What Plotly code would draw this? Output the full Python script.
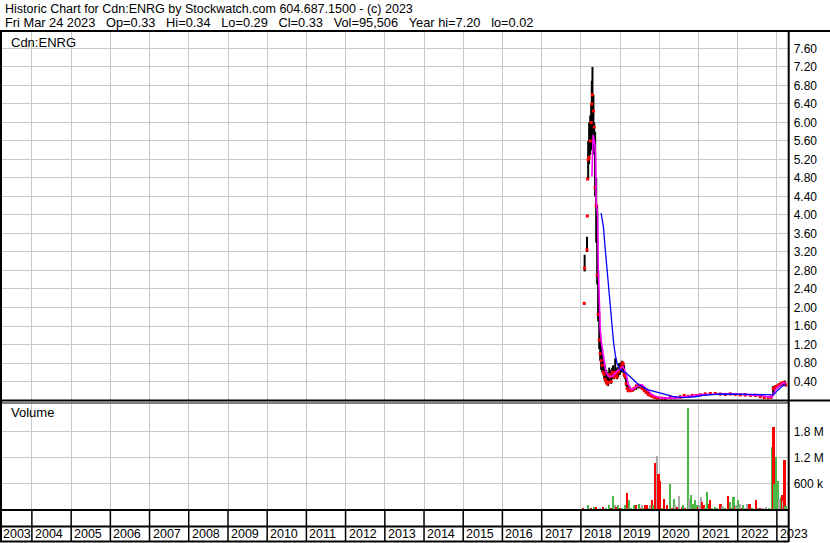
import plotly.graph_objects as go

W, H = 830, 543
FONT = 'Liberation Sans, Arial, sans-serif'
GRID = '#c8c8c8'
UP, DOWN, FLAT = '#4cb848', '#ff0000', '#a8a8a8'

# daily bars (sampled), Cdn:ENRG
PRICE_DATES = [
    '2018-02-01', '2018-02-05', '2018-02-27', '2018-03-02', '2018-03-06', '2018-03-10',
    '2018-03-19', '2018-03-29', '2018-04-07', '2018-04-13', '2018-04-19', '2018-04-28',
    '2018-05-05', '2018-05-14', '2018-05-24', '2018-06-02', '2018-06-11', '2018-06-21',
    '2018-06-30', '2018-07-09', '2018-07-19', '2018-07-28', '2018-08-06', '2018-08-15',
    '2018-08-25', '2018-09-03', '2018-09-12', '2018-09-22', '2018-10-01', '2018-10-10',
    '2018-10-20', '2018-10-29', '2018-11-07', '2018-11-17', '2018-11-26', '2018-12-05',
    '2018-12-15', '2018-12-24', '2019-01-01', '2019-01-11', '2019-01-21', '2019-01-30',
    '2019-02-08', '2019-02-18', '2019-02-27', '2019-03-08', '2019-03-17', '2019-04-05',
    '2019-04-24', '2019-05-12', '2019-05-31', '2019-06-19', '2019-07-07', '2019-07-26',
    '2019-08-14', '2019-09-01', '2019-09-20', '2019-10-09', '2019-10-27', '2019-11-15',
    '2019-12-03', '2019-12-22', '2020-01-25', '2020-02-25', '2020-04-12', '2020-05-28',
    '2020-07-14', '2020-08-20', '2020-09-26', '2020-11-03', '2020-12-10', '2021-01-17',
    '2021-03-04', '2021-04-20', '2021-06-06', '2021-07-22', '2021-09-07', '2021-10-23',
    '2021-12-09', '2022-01-24', '2022-03-12', '2022-04-28', '2022-06-13', '2022-07-30',
    '2022-09-05', '2022-10-12', '2022-11-09', '2022-11-28', '2022-12-17', '2023-01-04',
    '2023-01-22', '2023-02-10', '2023-03-01', '2023-03-15', '2023-03-24',
]
PRICE_HIGH = [
    2.12, 3.14, 3.53, 4.00, 4.82, 5.60, 6.00, 6.15, 6.40, 6.90, 7.20, 6.60,
    6.00, 5.80, 4.80, 4.20, 2.80, 1.90, 1.45, 1.25, 1.10, 0.95, 0.85, 0.75,
    0.65, 0.60, 0.55, 0.70, 0.65, 0.60, 0.70, 0.75, 0.65, 0.90, 0.70, 0.65,
    0.72, 0.80, 0.75, 0.82, 0.85, 0.82, 0.75, 0.60, 0.50, 0.35, 0.30, 0.25,
    0.24, 0.28, 0.33, 0.35, 0.34, 0.32, 0.28, 0.22, 0.18, 0.14, 0.12, 0.10,
    0.08, 0.07, 0.06, 0.05, 0.08, 0.08, 0.10, 0.12, 0.10, 0.12, 0.13, 0.14,
    0.16, 0.17, 0.16, 0.15, 0.15, 0.16, 0.15, 0.14, 0.14, 0.13, 0.12, 0.10,
    0.08, 0.08, 0.09, 0.30, 0.32, 0.33, 0.36, 0.38, 0.40, 0.42, 0.34,
]
PRICE_LOW = [
    2.06, 2.78, 3.20, 3.96, 4.76, 4.80, 5.10, 5.30, 5.40, 5.60, 5.50, 5.60,
    5.30, 4.40, 3.40, 2.50, 1.70, 1.10, 0.85, 0.65, 0.60, 0.55, 0.45, 0.40,
    0.35, 0.33, 0.30, 0.40, 0.45, 0.35, 0.45, 0.50, 0.45, 0.50, 0.50, 0.45,
    0.50, 0.55, 0.55, 0.60, 0.60, 0.60, 0.50, 0.45, 0.30, 0.22, 0.18, 0.18,
    0.18, 0.20, 0.22, 0.25, 0.25, 0.22, 0.18, 0.14, 0.10, 0.08, 0.06, 0.05,
    0.04, 0.03, 0.02, 0.02, 0.02, 0.03, 0.04, 0.05, 0.05, 0.07, 0.08, 0.09,
    0.10, 0.12, 0.12, 0.10, 0.10, 0.11, 0.10, 0.09, 0.08, 0.08, 0.07, 0.05,
    0.04, 0.04, 0.04, 0.10, 0.22, 0.25, 0.28, 0.30, 0.32, 0.33, 0.29,
]
PRICE_CLOSE = [
    2.09, 2.85, 3.25, 3.98, 4.78, 5.20, 5.25, 5.60, 6.00, 6.40, 6.60, 6.25,
    5.90, 4.60, 4.20, 2.70, 1.85, 1.30, 1.00, 0.85, 0.75, 0.60, 0.55, 0.45,
    0.40, 0.35, 0.38, 0.55, 0.50, 0.40, 0.60, 0.55, 0.50, 0.60, 0.55, 0.50,
    0.60, 0.65, 0.70, 0.72, 0.80, 0.78, 0.55, 0.50, 0.35, 0.25, 0.20, 0.20,
    0.21, 0.25, 0.30, 0.32, 0.30, 0.25, 0.20, 0.16, 0.12, 0.10, 0.08, 0.06,
    0.05, 0.04, 0.04, 0.03, 0.05, 0.05, 0.06, 0.10, 0.08, 0.10, 0.10, 0.11,
    0.13, 0.14, 0.14, 0.13, 0.12, 0.13, 0.12, 0.11, 0.11, 0.10, 0.10, 0.07,
    0.05, 0.05, 0.06, 0.25, 0.28, 0.30, 0.33, 0.36, 0.38, 0.36, 0.33,
]

# short moving average (magenta)
MA_SHORT_DATES = [
    '2018-04-14', '2018-04-25', '2018-05-10', '2018-05-18', '2018-05-24', '2018-06-06',
    '2018-06-12', '2018-06-21', '2018-07-01', '2018-07-14', '2018-07-29', '2018-08-20',
    '2018-09-15', '2018-10-22', '2018-12-03', '2019-01-01', '2019-01-30', '2019-02-27',
    '2019-03-20', '2019-04-21', '2019-05-22', '2019-06-21', '2019-07-23', '2019-08-23',
    '2019-09-23', '2019-10-27', '2019-11-24', '2020-01-25', '2020-05-28', '2020-11-01',
    '2021-02-04', '2021-11-20', '2022-07-30', '2022-10-31', '2022-11-19', '2022-12-17',
    '2023-01-04', '2023-03-01', '2023-03-24',
]
MA_SHORT = [
    4.83, 5.73, 5.55, 5.30, 4.29, 4.00, 2.86, 1.84, 1.48, 1.19, 0.91, 0.62,
    0.51, 0.51, 0.62, 0.68, 0.72, 0.55, 0.33, 0.22, 0.26, 0.31, 0.33, 0.26,
    0.18, 0.11, 0.08, 0.04, 0.04, 0.08, 0.12, 0.13, 0.10, 0.06, 0.07, 0.22,
    0.27, 0.37, 0.35,
]

# long moving average (blue)
MA_LONG_DATES = [
    '2018-07-09', '2018-07-31', '2018-08-15', '2018-08-31', '2018-09-15', '2018-10-01',
    '2018-10-16', '2018-11-01', '2018-11-17', '2018-12-03', '2019-01-01', '2019-02-18',
    '2019-04-21', '2019-06-21', '2019-09-23', '2020-01-25', '2020-05-05', '2020-08-07',
    '2020-12-01', '2021-02-04', '2021-07-22', '2022-04-28', '2022-11-09', '2022-11-28',
    '2023-01-04', '2023-02-10', '2023-03-24',
]
MA_LONG = [
    4.04, 3.72, 3.29, 2.86, 2.49, 1.99, 1.63, 1.26, 0.98, 0.80, 0.66, 0.60,
    0.47, 0.33, 0.22, 0.15, 0.08, 0.05, 0.07, 0.10, 0.13, 0.12, 0.10, 0.11,
    0.20, 0.28, 0.34,
]

# volume (sampled), direction of the day: u up, d down, f unchanged
VOL_DATES = [
    '2018-01-27', '2018-03-10', '2018-04-07', '2018-05-05', '2018-05-24', '2018-06-30',
    '2018-07-28', '2018-08-25', '2018-09-22', '2018-10-10', '2018-10-29', '2018-11-17',
    '2018-11-26', '2018-12-19', '2019-01-07', '2019-01-21', '2019-02-18', '2019-03-08',
    '2019-03-17', '2019-03-27', '2019-04-14', '2019-05-12', '2019-05-31', '2019-06-28',
    '2019-07-17', '2019-07-26', '2019-08-04', '2019-08-23', '2019-09-11', '2019-09-29',
    '2019-10-09', '2019-10-27', '2019-11-10', '2019-11-24', '2019-12-13', '2019-12-27',
    '2020-01-09', '2020-01-28', '2020-02-20', '2020-03-15', '2020-04-16', '2020-04-30',
    '2020-05-19', '2020-06-02', '2020-06-16', '2020-07-09', '2020-08-01', '2020-08-15',
    '2020-09-03', '2020-09-26', '2020-10-06', '2020-10-24', '2020-11-12', '2020-11-21',
    '2020-12-01', '2020-12-19', '2020-12-28', '2021-01-08', '2021-01-26', '2021-02-04',
    '2021-02-23', '2021-03-04', '2021-03-23', '2021-04-11', '2021-04-20', '2021-05-09',
    '2021-06-06', '2021-06-24', '2021-07-27', '2021-08-15', '2021-09-07', '2021-10-05',
    '2021-10-23', '2021-11-11', '2021-11-25', '2021-12-09', '2021-12-18', '2022-01-06',
    '2022-01-24', '2022-02-12', '2022-02-21', '2022-03-12', '2022-03-31', '2022-04-23',
    '2022-05-16', '2022-06-22', '2022-07-11', '2022-07-30', '2022-08-27', '2022-09-24',
    '2022-10-22', '2022-11-19', '2022-11-28', '2022-12-03', '2022-12-12', '2022-12-30',
    '2023-01-13', '2023-01-27', '2023-02-10', '2023-02-24', '2023-03-05', '2023-03-15',
    '2023-03-20', '2023-03-24',
]
VOL_VALUES = [
    37000, 100000, 40000, 60000, 60000, 30000, 60000, 30000, 100000, 50000, 330000, 120000,
    60000, 100000, 20000, 30000, 115000, 383000, 40000, 215000, 40000, 100000, 100000, 130000,
    50000, 100000, 50000, 115000, 115000, 40000, 100000, 230000, 115000, 1075000, 1250000, 815000,
    660000, 30000, 240000, 110000, 607000, 50000, 260000, 120000, 60000, 330000, 60000, 115000,
    40000, 2340000, 250000, 353000, 130000, 40000, 215000, 100000, 60000, 100000, 285000, 190000,
    100000, 40000, 400000, 130000, 215000, 40000, 60000, 30000, 140000, 80000, 40000, 330000,
    190000, 40000, 300000, 60000, 100000, 215000, 130000, 40000, 100000, 40000, 130000, 130000,
    30000, 230000, 30000, 40000, 50000, 60000, 30000, 1445000, 400000, 1920000, 600000, 1230000,
    660000, 250000, 290000, 350000, 200000, 1160000, 150000, 95506,
]
VOL_DIR = [
    'd', 'u', 'd', 'u', 'd', 'f', 'd', 'u', 'u', 'd', 'u', 'f',
    'd', 'u', 'd', 'u', 'u', 'd', 'f', 'u', 'u', 'u', 'd', 'u',
    'd', 'f', 'u', 'd', 'd', 'u', 'f', 'd', 'u', 'd', 'f', 'd',
    'd', 'u', 'd', 'd', 'u', 'd', 'u', 'f', 'd', 'f', 'd', 'u',
    'd', 'u', 'f', 'u', 'u', 'd', 'u', 'u', 'd', 'f', 'f', 'd',
    'd', 'u', 'u', 'd', 'd', 'u', 'u', 'u', 'd', 'f', 'u', 'd',
    'u', 'd', 'u', 'd', 'f', 'u', 'f', 'd', 'u', 'f', 'f', 'd',
    'u', 'd', 'u', 'd', 'f', 'f', 'u', 'u', 'f', 'd', 'u', 'u',
    'u', 'f', 'u', 'd', 'f', 'd', 'd', 'u',
]

PRICE_TICKS = [0.40, 0.80, 1.20, 1.60, 2.00, 2.40, 2.80, 3.20, 3.60, 4.00,
               4.40, 4.80, 5.20, 5.60, 6.00, 6.40, 6.80, 7.20, 7.60]
VOL_TICKS = [600000, 1200000, 1800000]
VOL_TICK_TEXT = ['600 k', '1.2 M', '1.8 M']
YEARS = list(range(2004, 2024))
X_START, X_END = '2003-03-10', '2023-04-21'

HEADER_1 = 'Historic Chart for Cdn:ENRG by Stockwatch.com 604.687.1500 - (c) 2023'
HEADER_2 = ('Fri Mar 24 2023  Op=0.33  Hi=0.34  Lo=0.29  Cl=0.33  '
            'Vol=95,506  Year hi=7.20  lo=0.02').replace('  ', '\u00a0\u00a0\u00a0')


def px(x):
    return x / W


def py(y):
    return 1 - y / H


RIGHT = 788.7  # right frame of the plot area, px

fig = go.Figure()

fig.add_trace(go.Scatter(
    x=PRICE_DATES, y=PRICE_CLOSE, mode='markers',
    marker=dict(symbol='square', size=3, color='#ff0000', line_width=0),
    error_y=dict(type='data', symmetric=False,
                 array=[h - c for h, c in zip(PRICE_HIGH, PRICE_CLOSE)],
                 arrayminus=[c - l for c, l in zip(PRICE_CLOSE, PRICE_LOW)],
                 width=0, thickness=2, color='black'),
    xaxis='x', yaxis='y', showlegend=False, hoverinfo='skip'))
fig.add_trace(go.Scatter(x=MA_SHORT_DATES, y=MA_SHORT, mode='lines',
                         line=dict(color='#ff00ff', width=1.6),
                         xaxis='x', yaxis='y', showlegend=False))
fig.add_trace(go.Scatter(x=MA_LONG_DATES, y=MA_LONG, mode='lines',
                         line=dict(color='#0000ff', width=1.3),
                         xaxis='x', yaxis='y', showlegend=False))

colors = {'u': UP, 'd': DOWN, 'f': FLAT}
fig.add_trace(go.Bar(x=VOL_DATES, y=VOL_VALUES,
                     marker=dict(color=[colors[d] for d in VOL_DIR], line_width=0),
                     width=15 * 86400000, xaxis='x2', yaxis='y2', showlegend=False))

xax = dict(type='date', range=[X_START, X_END], domain=[0, px(RIGHT)],
           showgrid=True, gridcolor=GRID, gridwidth=1, dtick='M12', tick0='2004-01-01',
           showticklabels=False, ticks='', zeroline=False, showline=False)
tickfont = dict(family=FONT, size=12, color='black')
fig.update_layout(
    width=W, height=H, margin=dict(l=0, r=0, t=0, b=0), autosize=False,
    paper_bgcolor='white', plot_bgcolor='white', barmode='overlay', bargap=0,
    font=dict(family=FONT, color='black'),
    xaxis=dict(xax, anchor='y'),
    xaxis2=dict(xax, anchor='y2', matches='x'),
    yaxis=dict(domain=[py(400), py(31)], range=[0, 7.978], side='right', anchor='x',
               tickvals=PRICE_TICKS, ticktext=['%.2f' % v for v in PRICE_TICKS],
               showgrid=True, gridcolor=GRID, zeroline=False, ticks='',
               ticklabelstandoff=4, tickfont=tickfont),
    yaxis2=dict(domain=[py(509.3), py(402.5)], range=[0, 2465000], side='right', anchor='x2',
                tickvals=VOL_TICKS, ticktext=VOL_TICK_TEXT,
                showgrid=True, gridcolor=GRID, zeroline=False, ticks='',
                ticklabelstandoff=4, tickfont=tickfont),
)

# frame lines (pixel positions)
def line(x0, y0, x1, y1, w=2):
    fig.add_shape(type='line', xref='paper', yref='paper',
                  x0=px(x0), y0=py(y0), x1=px(x1), y1=py(y1),
                  line=dict(color='black', width=w))


line(0, 31, W, 31)
line(1, 31, 1, 542)
line(RIGHT, 31, RIGHT, 542)
line(0, 400.5, W, 400.5)
line(0, 403, RIGHT, 403, 1.2)
line(0, 510, RIGHT, 510)
line(0, 526.5, RIGHT, 526.5)
line(0, 541.5, RIGHT, 541.5)

for yr in YEARS:
    fig.add_shape(type='line', xref='x', yref='paper', x0=f'{yr}-01-01', x1=f'{yr}-01-01',
                  y0=py(510), y1=py(541.5), line=dict(color='black', width=1.5))

labels = [(X_START, '2003')] + [(f'{yr}-01-01', str(yr)) for yr in YEARS]
for xv, txt in labels:
    fig.add_annotation(x=xv, xref='x', y=py(534), yref='paper', text=txt, showarrow=False,
                       xanchor='left', yanchor='middle', xshift=1,
                       font=dict(family=FONT, size=12.5, color='black'))

for y, txt, size in [(9, HEADER_1, 12.5), (22, HEADER_2, 12.8)]:
    fig.add_annotation(x=px(3), y=py(y), xref='paper', yref='paper', text=txt,
                       showarrow=False, xanchor='left', yanchor='middle',
                       font=dict(family=FONT, size=size, color='black'))
for y, txt in [(42, 'Cdn:ENRG'), (413, 'Volume')]:
    fig.add_annotation(x=px(9), y=py(y), xref='paper', yref='paper', text=txt,
                       showarrow=False, xanchor='left', yanchor='middle',
                       font=dict(family=FONT, size=13, color='black'))

fig.write_html('out.html', config={'displayModeBar': False},
               post_script="document.body.style.margin = '0';")
